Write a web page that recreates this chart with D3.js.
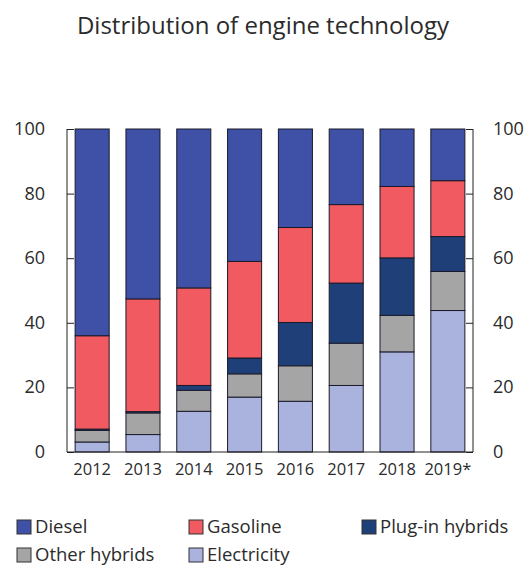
<!DOCTYPE html>
<html>
<head>
<meta charset="utf-8">
<script src="https://cdn.jsdelivr.net/npm/d3@7"></script>
<style>
  body { margin: 0; background: #fff; }
  svg text { font-family: "Open Sans", sans-serif; fill: #2b2b2b; }
</style>
</head>
<body>
<div id="container"></div>
<script>
/* DATA */
const years = ["2012", "2013", "2014", "2015", "2016", "2017", "2018", "2019*"];
const series = ["Electricity", "Other hybrids", "Plug-in hybrids", "Gasoline", "Diesel"];
const electricity = [3.1, 5.4, 12.6, 17.0, 15.7, 20.6, 31.0, 43.8];
const otherHybrids = [3.6, 6.7, 6.5, 7.2, 11.0, 13.1, 11.3, 12.1];
const plugInHybrids = [0.4, 0.4, 1.5, 4.9, 13.4, 18.6, 17.8, 10.8];
const gasoline = [28.9, 34.9, 30.2, 29.9, 29.4, 24.3, 22.1, 17.3];
const diesel = [64.0, 52.6, 49.2, 41.0, 30.5, 23.4, 17.8, 16.0];
const yTicks = [0, 20, 40, 60, 80, 100];
const legendOrder = ["Diesel", "Gasoline", "Plug-in hybrids", "Other hybrids", "Electricity"];

/* CONSTANTS */
const width = 532, height = 565,
  plot = { left: 67, right: 473, top: 129, bottom: 452 };

const colorScale = d3.scaleOrdinal()
  .domain(series)
  .range(["#aab3dd", "#a5a5a5", "#1f3f78", "#f05a60", "#3f51a6"]);

const table = years.map((year, i) => ({
  year,
  "Electricity": electricity[i],
  "Other hybrids": otherHybrids[i],
  "Plug-in hybrids": plugInHybrids[i],
  "Gasoline": gasoline[i],
  "Diesel": diesel[i]
}));
const stacked = d3.stack().keys(series)(table);

const svg = d3.select("#container")
  .append("svg")
  .attr("width", width)
  .attr("height", height);

// TITLE
svg.append("text")
  .attr("x", 263)
  .attr("y", 34)
  .attr("text-anchor", "middle")
  .style("font-size", "24px")
  .text("Distribution of engine technology");

// SCALES
const x = d3.scaleBand()
  .domain(years)
  .range([plot.left, plot.right])
  .paddingInner(0.33)
  .paddingOuter(0.16);

const y = d3.scaleLinear()
  .domain([0, 100])
  .range([plot.bottom, plot.top]);

// BARS
svg.selectAll("g.layer")
  .data(stacked)
  .join("g")
  .attr("class", "layer")
  .attr("fill", d => colorScale(d.key))
  .selectAll("rect")
  .data(d => d)
  .join("rect")
  .attr("x", d => x(d.data.year))
  .attr("y", d => y(d[1]))
  .attr("width", x.bandwidth())
  .attr("height", d => y(d[0]) - y(d[1]))
  .attr("stroke", "#1a1a2a")
  .attr("stroke-width", 1);

// AXES
const leftAxis = svg.append("g")
  .attr("transform", `translate(${plot.left},0)`)
  .call(d3.axisRight(y).tickValues(yTicks).tickSize(7).tickFormat(""));
leftAxis.select(".domain").attr("d", `M0,${plot.top}V${plot.bottom}`);

const rightAxis = svg.append("g")
  .attr("transform", `translate(${plot.right},0)`)
  .call(d3.axisLeft(y).tickValues(yTicks).tickSize(7).tickFormat(""));
rightAxis.select(".domain").attr("d", `M0,${plot.top}V${plot.bottom}`);

svg.selectAll(".tick line").attr("stroke", "#222");
svg.selectAll(".domain").attr("stroke", "#222");

// TICK LABELS
svg.selectAll("text.yl")
  .data(yTicks)
  .join("text")
  .attr("class", "yl")
  .attr("x", 45)
  .attr("y", d => y(d) + 6)
  .attr("text-anchor", "end")
  .style("font-size", "18px")
  .text(d => d);

svg.selectAll("text.yr")
  .data(yTicks)
  .join("text")
  .attr("class", "yr")
  .attr("x", 493)
  .attr("y", d => y(d) + 6)
  .style("font-size", "18px")
  .text(d => d);

svg.append("line")
  .attr("x1", plot.left)
  .attr("x2", plot.right)
  .attr("y1", plot.bottom)
  .attr("y2", plot.bottom)
  .attr("stroke", "#222");

svg.selectAll("text.xl")
  .data(years)
  .join("text")
  .attr("class", "xl")
  .attr("x", d => x(d) + x.bandwidth() / 2)
  .attr("y", 475)
  .attr("text-anchor", "middle")
  .style("font-size", "16.5px")
  .text(d => d);

// LEGEND
const legendPos = [[17, 527], [189, 527], [362, 527], [17, 555], [189, 555]];
const legendItems = svg.selectAll("g.legend-item")
  .data(legendOrder)
  .join("g")
  .attr("class", "legend-item")
  .attr("transform", (d, i) => `translate(${legendPos[i][0]},${legendPos[i][1]})`);

legendItems.append("rect")
  .attr("x", 0)
  .attr("y", -7)
  .attr("width", 14)
  .attr("height", 14)
  .attr("fill", d => colorScale(d))
  .attr("stroke", "#333");

legendItems.append("text")
  .attr("x", 18)
  .attr("y", 6)
  .style("font-size", "18.5px")
  .text(d => d);
</script>
</body>
</html>
